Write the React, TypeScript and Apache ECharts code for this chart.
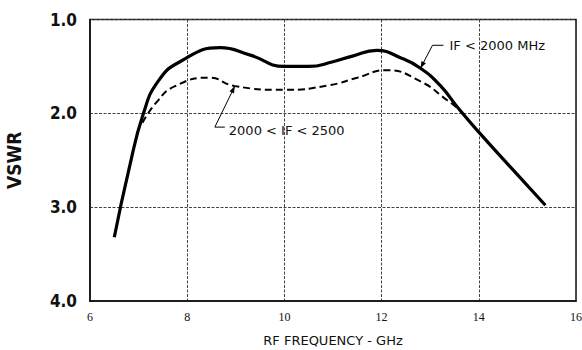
import React, { useEffect, useRef } from "react";
import * as echarts from "echarts";

const xTicks = [6, 8, 10, 12, 14, 16];
const yTicks = [1.0, 2.0, 3.0, 4.0];

const solidFreq = [6.5, 6.8, 7.1, 7.4, 7.85, 8.67, 9.3, 10.0, 10.5, 11.0, 11.4, 11.9, 12.4, 12.8, 13.2, 13.6, 14.0, 14.7, 15.37];
const solidVswr = [3.32, 2.6, 2.0, 1.66, 1.45, 1.30, 1.38, 1.5, 1.5, 1.45, 1.39, 1.33, 1.41, 1.52, 1.7, 1.96, 2.2, 2.6, 2.98];

const dashFreq = [7.08, 7.37, 7.75, 8.45, 8.98, 10.0, 10.93, 11.5, 12.1, 12.8, 13.35, 13.6];
const dashVswr = [2.1, 1.88, 1.71, 1.62, 1.71, 1.75, 1.70, 1.62, 1.54, 1.66, 1.86, 1.96];

const solidLabel = "IF < 2000 MHz";
const dashLabel = "2000 < IF < 2500";
const solidAnchor = [12.8, 1.52];
const dashAnchor = [8.98, 1.71];

export default function App() {
  const ref = useRef<HTMLDivElement>(null);
  useEffect(() => {
    if (!ref.current) return;
    const chart = echarts.init(ref.current, undefined, { renderer: "svg" });
    const sans = "'DejaVu Sans', sans-serif";
    const cond = "'DejaVu Sans Condensed', 'DejaVu Sans', sans-serif";
    const grid = { color: "#444", type: [3, 1.5], width: 1 };
    chart.setOption({
      animation: false,
      backgroundColor: "#ffffff",
      grid: { left: 90, right: 6, top: 19.5, bottom: 49, show: true, borderColor: "#111", borderWidth: 1.5, containLabel: false, outerBoundsMode: "none" },
      xAxis: {
        type: "value", min: 6, max: 16, interval: 2,
        name: "RF FREQUENCY - GHz", nameLocation: "middle", nameGap: 33,
        nameTextStyle: { fontFamily: sans, fontSize: 13, color: "#111" },
        axisLine: { show: true, lineStyle: { color: "#111", width: 1.5 } },
        axisTick: { show: false },
        axisLabel: { fontFamily: "'Liberation Serif', serif", fontSize: 12, color: "#111", margin: 10, formatter: (v: number) => (xTicks.includes(v) ? String(v) : "") },
        splitLine: { show: true, lineStyle: grid },
      },
      yAxis: {
        type: "value", min: 1, max: 4, interval: 1, inverse: true,
        name: "VSWR", nameLocation: "middle", nameGap: 67, nameRotate: 90,
        nameTextStyle: { fontFamily: cond, fontWeight: "bold", fontSize: 19, color: "#111" },
        axisLine: { show: true, lineStyle: { color: "#111", width: 1.5 } },
        axisTick: { show: false },
        axisLabel: { fontFamily: cond, fontWeight: "bold", fontSize: 17, color: "#111", margin: 13, formatter: (v: number) => (yTicks.includes(v) ? v.toFixed(1) : "") },
        splitLine: { show: true, lineStyle: grid },
      },
      series: [
        {
          type: "line", smooth: 0.5, showSymbol: false,
          data: solidFreq.map((f, i) => [f, solidVswr[i]]),
          lineStyle: { color: "#000", width: 3.2 },
        },
        {
          type: "line", smooth: 0.5, showSymbol: false,
          data: dashFreq.map((f, i) => [f, dashVswr[i]]),
          lineStyle: { color: "#000", width: 2, type: [7, 4] },
        },
      ],
    });
    const sp = chart.convertToPixel({ gridIndex: 0 }, solidAnchor) as number[];
    const dp = chart.convertToPixel({ gridIndex: 0 }, dashAnchor) as number[];
    const arrow = (tip: number[], from: number[]) => {
      const dx = tip[0] - from[0], dy = tip[1] - from[1];
      const L = Math.hypot(dx, dy);
      const ux = dx / L, uy = dy / L;
      const len = 7, w = 2.5;
      const bx = tip[0] - ux * len, by = tip[1] - uy * len;
      return {
        type: "polygon",
        shape: { points: [tip, [bx - uy * w, by + ux * w], [bx + uy * w, by - ux * w]] },
        style: { fill: "#000" },
      };
    };
    const sElbow = [sp[0] + 12, sp[1] - 23];
    const dElbow = [dp[0] - 20, dp[1] + 41];
    chart.setOption({
      graphic: [
        { type: "polyline", shape: { points: [sp, sElbow, [sElbow[0] + 11, sElbow[1]]] }, style: { stroke: "#000", lineWidth: 1, fill: null } },
        arrow(sp, sElbow),
        { type: "text", x: sElbow[0] + 17, y: sElbow[1], style: { text: solidLabel, font: `13px ${sans}`, fill: "#111", verticalAlign: "middle" } },
        { type: "polyline", shape: { points: [dp, dElbow, [dElbow[0] + 10, dElbow[1]]] }, style: { stroke: "#000", lineWidth: 1, fill: null } },
        arrow(dp, dElbow),
        { type: "text", x: dElbow[0] + 14, y: dElbow[1] + 3, style: { text: dashLabel, font: `13px ${sans}`, fill: "#111", verticalAlign: "middle" } },
      ],
    });
    return () => chart.dispose();
  }, []);
  return <div ref={ref} style={{ width: 582, height: 350, position: "absolute", left: 0, top: 0 }} />;
}
